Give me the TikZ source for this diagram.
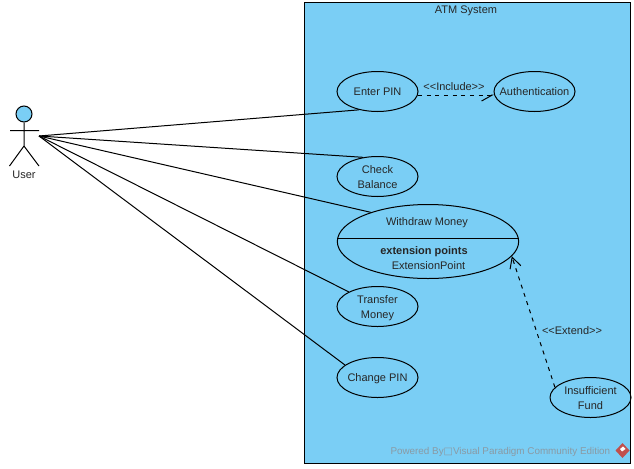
\documentclass[tikz,border=0pt]{standalone}
\usepackage{fontspec}
\setmainfont{Liberation Sans}
\newfontfamily\symfont{DejaVu Sans}
\usetikzlibrary{shapes.geometric,arrows.meta}
\definecolor{sysblue}{HTML}{7ACEF5}
\definecolor{wmgrey}{HTML}{8A9AA4}
\definecolor{logored}{HTML}{C0504D}
\tikzset{
  uc/.style={draw=black,ellipse,inner sep=0pt,line width=0.75pt,minimum width=60.75pt,minimum height=30pt},
  txt/.style={font=\fontsize{8.25}{11.25}\selectfont,text=black!85,inner sep=0pt,align=center,yshift=-0.4pt},
  assoc/.style={draw=black,line width=0.75pt},
  dep/.style={draw=black,line width=0.75pt,dash pattern=on 3pt off 3.5pt},
}
\begin{document}
\begin{tikzpicture}[x=0.75pt,y=-0.75pt]
\useasboundingbox (0,0) rectangle (634,468);
\fill[white] (0,0) rectangle (634,468);
\node[draw=black,fill=sysblue,line width=0.75pt,inner sep=0pt,minimum width=244.5pt,minimum height=345.5pt,anchor=north west] (sys) at (304,2) {};
\node[txt] (systitle) at (466,10.5) {ATM System};
% actor
\node[draw=black,fill=sysblue,circle,line width=0.75pt,inner sep=0pt,minimum size=12pt] (head) at (24,114) {};
\coordinate (hip) at (24,146);
\coordinate (larm) at (10,130.5);
\coordinate (rarm) at (39,130.5);
\coordinate (lleg) at (9.5,166);
\coordinate (rleg) at (39,166);
\coordinate (user) at (39,136);
\draw[assoc] (head.south) -- (hip) (larm) -- (rarm) (lleg) -- (hip) -- (rleg);
\node[txt] (userlab) at (24,174) {User};
% use cases
\node[uc] (ep) at (377.5,91.5) {};
\node[txt] at (ep) {Enter PIN};
\node[uc] (au) at (534.5,91.5) {};
\node[txt] at (au) {Authentication};
\node[uc] (cb) at (377.5,176.5) {};
\node[txt] at (cb) {Check\\Balance};
\node[uc,minimum width=136pt,minimum height=55.5pt] (wm) at (428,241.5) {};
\coordinate (sepl) at (337.5,238.5);
\coordinate (sepr) at (518.5,238.5);
\draw[assoc] (sepl) -- (sepr);
\node[txt] (wm1) at (427,222) {Withdraw Money};
\node[txt,font=\fontsize{8.25}{11.25}\selectfont\bfseries] (wm2) at (424,251) {extension points};
\node[txt] (wm3) at (428.5,265.5) {ExtensionPoint};
\node[uc] (tm) at (377.5,306.5) {};
\node[txt,yshift=-0.5pt] at (tm) {Transfer\\Money};
\node[uc] (cp) at (377.5,377.5) {};
\node[txt,yshift=-0.5pt] at (cp) {Change PIN};
\node[uc] (ifd) at (590.5,397.5) {};
\node[txt] at (ifd) {Insufficient\\Fund};
% associations
\draw[assoc] (user) -- (ep.225);
\draw[assoc] (user) -- (cb.127);
\draw[assoc] (user) -- (wm.153);
\draw[assoc] (user) -- (tm.153);
\draw[assoc] (user) -- (cp.159);
% dependencies
\draw[dep,-{Straight Barb[right,length=8pt,width=9pt,line width=0.75pt]}] (ep.-5) -- (au.185);
\node[txt] (inc) at (454,86.5) {<{}<Include>{}>};
\draw[dep,-{Straight Barb[length=8pt,width=8.5pt,line width=0.75pt]}] (ifd.164) -- (wm.-10.7);
\node[txt] (ext) at (572,330) {<{}<Extend>{}>};
% watermark
\node[txt,font=\fontsize{7.4}{10}\selectfont,text=wmgrey,anchor=east] (wmk) at (610.5,451.5) {Powered By{\symfont □}Visual Paradigm Community Edition};
\fill[logored] (622.5,443) -- (629.5,450.5) -- (622.5,458) -- (615.5,450.5) -- cycle;
\fill[white] (623,446.5) -- (625.5,449) -- (622,451.5) -- (620,449) -- cycle;
\end{tikzpicture}
\end{document}
